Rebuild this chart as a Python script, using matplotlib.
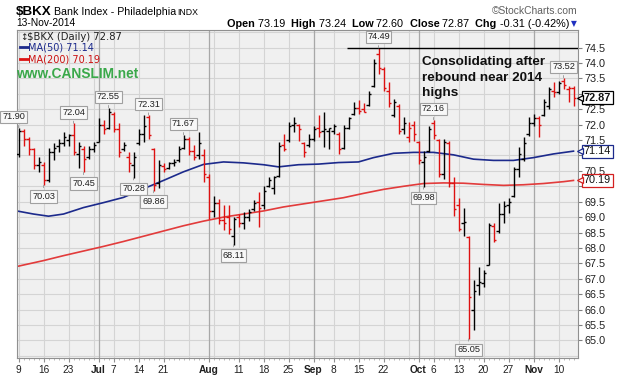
import numpy as np
import pandas as pd
import matplotlib
matplotlib.use('Agg')
import matplotlib.pyplot as plt

# ---------------- data ----------------
opens = [71.05, 71.80, 71.55, 71.20, 70.70, 70.70, 70.20, 71.10, 71.30, 71.40,
         71.50, 71.65, 71.05, 71.20, 70.95, 71.20, 71.45, 72.00, 71.90, 72.35,
         71.85, 71.20, 70.95, 70.70, 71.40, 71.70, 72.25, 71.20, 70.10, 70.65,
         70.60, 70.75, 70.85, 71.25, 71.55, 71.15, 71.00, 71.00, 70.30, 69.20,
         69.45, 68.90, 69.00, 68.40, 69.00, 68.80, 69.00, 69.25, 69.50, 69.40,
         70.00, 69.95, 70.35, 71.35, 71.50, 72.00, 72.00, 71.40, 71.35, 71.55,
         71.90, 71.80, 71.80, 71.80, 71.70, 71.25, 71.90, 72.35, 72.55, 72.50,
         72.65, 73.25, 74.30, 73.80, 73.10, 72.30, 72.60, 71.85, 71.60, 72.00,
         71.45, 70.80, 71.15, 72.05, 71.50, 70.40, 71.40, 70.10, 69.40, 68.80,
         68.35, 66.00, 66.80, 66.85, 67.45, 68.70, 68.55, 69.10, 69.40, 69.70,
         70.55, 70.90, 71.70, 72.05, 72.20, 72.30, 72.60, 73.10, 73.05, 73.40,
         73.15, 73.19]
highs = [71.90, 71.85, 71.60, 71.25, 70.95, 70.80, 71.25, 71.40, 71.55, 71.75,
         71.70, 72.04, 71.45, 71.30, 71.30, 71.45, 72.20, 72.15, 72.55, 72.40,
         72.05, 71.45, 71.10, 71.10, 71.85, 72.30, 72.31, 71.25, 70.85, 70.75,
         70.80, 70.90, 71.30, 71.67, 71.60, 71.35, 71.75, 71.20, 70.40, 69.70,
         69.59, 69.40, 69.40, 69.00, 69.10, 69.16, 69.27, 69.54, 69.81, 70.02,
         70.29, 70.35, 71.43, 71.70, 72.08, 72.24, 72.02, 71.43, 71.70, 71.97,
         72.30, 72.40, 71.90, 72.02, 71.75, 72.00, 72.25, 72.73, 72.80, 72.70,
         73.10, 74.13, 74.49, 73.86, 73.37, 72.84, 72.67, 72.24, 72.08, 72.13,
         71.48, 71.16, 71.97, 72.16, 71.54, 71.54, 71.48, 70.30, 69.61, 69.30,
         68.40, 66.95, 67.38, 67.27, 68.82, 68.82, 69.46, 69.51, 69.61, 70.62,
         71.27, 71.59, 72.24, 72.35, 72.29, 72.83, 73.21, 73.37, 73.43, 73.52,
         73.26, 73.24]
lows = [70.95, 71.30, 71.00, 70.55, 70.45, 70.03, 70.15, 70.85, 71.10, 71.30,
        71.30, 71.00, 70.60, 70.45, 70.90, 71.10, 71.45, 71.70, 71.85, 71.75,
        70.95, 71.15, 70.45, 70.28, 71.35, 71.45, 71.55, 69.86, 69.95, 70.45,
        70.55, 70.65, 70.80, 71.20, 71.00, 70.85, 70.90, 70.15, 68.94, 69.00,
        68.78, 68.57, 68.45, 68.11, 68.67, 68.62, 68.89, 69.21, 68.67, 69.27,
        69.97, 69.76, 70.29, 71.16, 71.43, 71.75, 71.48, 70.94, 71.27, 71.48,
        71.60, 71.27, 71.20, 71.70, 71.05, 71.20, 71.85, 72.30, 72.35, 72.40,
        72.60, 73.21, 73.65, 73.10, 72.57, 72.24, 71.70, 71.70, 71.43, 71.48,
        70.73, 69.98, 71.11, 71.54, 70.30, 70.24, 69.97, 69.05, 68.55, 68.40,
        65.05, 65.35, 66.46, 66.73, 67.45, 68.20, 68.50, 68.82, 69.14, 69.64,
        70.29, 70.83, 71.64, 71.97, 71.59, 72.29, 72.51, 72.89, 72.99, 73.16,
        72.72, 72.60]
closes = [71.80, 71.55, 71.20, 70.70, 70.80, 70.20, 71.10, 71.25, 71.40, 71.60,
          71.65, 71.10, 71.30, 70.90, 71.20, 71.35, 72.00, 71.85, 72.40, 71.85,
          71.10, 71.35, 70.75, 70.95, 71.70, 71.95, 71.65, 70.05, 70.70, 70.55,
          70.75, 70.80, 71.20, 71.55, 71.15, 70.95, 71.40, 70.40, 69.20, 69.45,
          68.90, 68.80, 68.60, 68.95, 68.80, 69.00, 69.15, 69.45, 69.30, 69.85,
          70.20, 70.30, 71.30, 71.20, 71.95, 72.05, 71.85, 71.10, 71.55, 71.85,
          71.75, 71.85, 71.90, 71.95, 71.20, 71.90, 72.20, 72.55, 72.45, 72.42,
          73.00, 74.00, 73.85, 73.20, 72.70, 72.75, 71.80, 72.05, 71.90, 71.70,
          70.85, 70.95, 71.85, 71.65, 70.40, 71.45, 70.10, 69.25, 68.60, 68.85,
          66.40, 66.60, 66.90, 67.20, 68.75, 68.25, 69.10, 69.35, 69.50, 70.55,
          71.05, 71.40, 72.05, 72.20, 72.00, 72.75, 73.15, 73.05, 73.35, 73.30,
          73.18, 72.87]

ma50_idx = [0, 3, 6, 9, 13, 17, 21, 25, 29, 33, 37, 41, 45, 49, 52, 56, 60, 64,
            68, 71, 75, 79, 83, 87, 91, 95, 99, 103, 107, 111]
ma50_val = [69.19, 69.10, 69.03, 69.10, 69.31, 69.47, 69.64, 69.92, 70.19, 70.47,
            70.71, 70.79, 70.76, 70.70, 70.63, 70.70, 70.72, 70.77, 70.79, 70.93,
            71.07, 71.10, 71.10, 71.02, 70.88, 70.84, 70.84, 70.93, 71.05, 71.14]
ma200_idx = [0, 5, 9, 13, 17, 21, 25, 29, 33, 37, 41, 45, 49, 53, 57, 61, 65, 69,
             73, 77, 81, 85, 89, 93, 97, 101, 105, 109, 111]
ma200_val = [67.41, 67.59, 67.75, 67.90, 68.05, 68.21, 68.38, 68.55, 68.72, 68.87,
             69.00, 69.10, 69.20, 69.33, 69.43, 69.53, 69.63, 69.77, 69.90, 70.00,
             70.09, 70.11, 70.10, 70.06, 70.03, 70.05, 70.09, 70.15, 70.19]

high_marks = [(0, 71.90), (11, 72.04), (18, 72.55), (26, 72.31), (33, 71.67),
              (72, 74.49), (83, 72.16), (109, 73.52)]
low_marks = [(5, 70.03), (13, 70.45), (23, 70.28), (27, 69.86), (43, 68.11),
             (81, 69.98), (90, 65.05)]
resistance = 74.49
resistance_start = 65.6
note_lines = ['Consolidating after', 'rebound near 2014', 'highs']

dates = pd.bdate_range('2014-06-09', '2014-11-13')
dates = dates[~dates.isin(pd.to_datetime(['2014-07-04', '2014-09-01']))]

# ---------------- figure ----------------
W, H = 617, 379
fig = plt.figure(figsize=(W / 100, H / 100), dpi=100)
L_, R_, T_, B_ = 17, 578, 30, 358
ax = fig.add_axes([L_ / W, 1 - B_ / H, (R_ - L_) / W, (B_ - T_) / H])
ax.set_facecolor('#f0f0f0')

n = len(closes)
x = np.arange(n)
xmax = (R_ - L_) / 5.0 - 0.3
ax.set_xlim(-0.3, xmax)
ax.set_ylim(64.43, 75.07)

# grid
for v in np.arange(64.5, 75.01, 0.5):
    ax.axhline(v, color='#d4d4d4', lw=0.8, zorder=0)

month_first = []
week_first = []
for i, d in enumerate(dates):
    if i == 0 or d.month != dates[i - 1].month:
        month_first.append(i)
    if i == 0 or d.weekday() < dates[i - 1].weekday() or (d - dates[i - 1]).days > 3:
        week_first.append(i)
for i in week_first:
    ax.axvline(i, color='#d4d4d4', lw=0.8, zorder=0)
for i in month_first[1:]:
    ax.axvline(i, color='#a8a8a8', lw=0.9, zorder=0)

# moving averages
ax.plot(ma50_idx, ma50_val, color='#1c2a8c', lw=1.2, zorder=2)
ax.plot(ma200_idx, ma200_val, color='#e23b3b', lw=1.2, zorder=2)

# OHLC bars
cols = ['black' if (i == 0 or closes[i] >= closes[i - 1]) else '#dd1111' for i in range(n)]
ax.vlines(x, lows, highs, colors=cols, lw=1.0, zorder=3)
ax.hlines(opens, x - 0.45, x, colors=cols, lw=1.0, zorder=3)
ax.hlines(closes, x, x + 0.45, colors=cols, lw=1.0, zorder=3)

ax.hlines(resistance, resistance_start, xmax, colors='black', lw=1.0, zorder=3)

# callouts
FONT = 'Liberation Sans'
box = dict(boxstyle='square,pad=0.18', fc='#f8f8f8', ec='#a0a0a0', lw=0.8)
for i, v in high_marks:
    dx = -5 if i == 0 else 0
    ax.annotate(f'{v:.2f}', xy=(i, v), xytext=(dx, 11),
                textcoords='offset pixels', ha='center', va='center',
                fontsize=6.6, family=FONT, color='#202020', bbox=box,
                annotation_clip=False, zorder=5)
    ax.annotate('', xy=(i, v), xytext=(0, 5), textcoords='offset pixels',
                arrowprops=dict(arrowstyle='-', color='#a0a0a0', lw=0.7),
                annotation_clip=False, zorder=5)
for i, v in low_marks:
    ax.annotate(f'{v:.2f}', xy=(i, v), xytext=(0, -11),
                textcoords='offset pixels', ha='center', va='center',
                fontsize=6.6, family=FONT, color='#202020', bbox=box,
                annotation_clip=False, zorder=5)
    ax.annotate('', xy=(i, v), xytext=(0, -5), textcoords='offset pixels',
                arrowprops=dict(arrowstyle='-', color='#a0a0a0', lw=0.7),
                annotation_clip=False, zorder=5)

# axes styling
for s in ax.spines.values():
    s.set_color('#909090')
    s.set_linewidth(0.8)
ax.yaxis.tick_right()
ytk = np.arange(65.0, 74.51, 0.5)
tag_vals = [closes[-1], ma50_val[-1], ma200_val[-1]]
ax.set_yticks(ytk)
ax.set_yticklabels(['' if min(abs(v - t) for t in tag_vals) < 0.2 else f'{v:.1f}' for v in ytk],
                   family=FONT, fontsize=7.8, color='#202020')
ax.tick_params(axis='y', length=3, width=0.8, color='#808080', pad=2)

tick_idx, tick_lab, bold = [], [], []
for i in sorted(set(week_first) | set(month_first)):
    if i in month_first and i != 0:
        tick_idx.append(i); tick_lab.append(dates[i].strftime('%b')); bold.append(True)
    else:
        if any(0 < m - i <= 4 or 0 < i - m <= 2 for m in month_first[1:]):
            continue
        tick_idx.append(i); tick_lab.append(str(dates[i].day)); bold.append(False)
ax.set_xticks(tick_idx)
ax.set_xticklabels(tick_lab, family=FONT, fontsize=7.3, color='#202020')
for t, b in zip(ax.get_xticklabels(), bold):
    if b:
        t.set_fontweight('bold')
ax.set_xticks(x, minor=True)
ax.tick_params(axis='x', which='major', length=3, width=0.8, color='#909090', pad=2)
ax.tick_params(axis='x', which='minor', length=1.5, width=0.6, color='#b0b0b0')

# right tags
def tag(val, txt, ec, weight='normal'):
    ax.annotate(txt, xy=(1.0, val), xycoords=('axes fraction', 'data'),
                xytext=(6, 0), textcoords='offset pixels', ha='left', va='center',
                fontsize=7.8, family=FONT, fontweight=weight, color='#101010',
                bbox=dict(boxstyle='square,pad=0.15', fc='white', ec=ec, lw=0.9),
                annotation_clip=False, zorder=6)
    ax.plot([1.0 + 2 / (R_ - L_)], [val], marker='<', ms=4, mfc='white', mec=ec, mew=0.9,
            transform=ax.get_yaxis_transform(), clip_on=False, zorder=7)

tag(closes[-1], f'{closes[-1]:.2f}', 'black', 'bold')
tag(ma50_val[-1], f'{ma50_val[-1]:.2f}', '#1c2a8c')
tag(ma200_val[-1], f'{ma200_val[-1]:.2f}', '#d42020')

# ---------------- texts ----------------
def fx(px): return px / W
def fy(py): return 1 - py / H

fig.text(fx(16), fy(15), '$BKX', family=FONT, fontweight='bold', fontsize=9.6, va='baseline')
fig.text(fx(54), fy(15), 'Bank Index - Philadelphia', family=FONT, fontsize=7.7, va='baseline')
fig.text(fx(177), fy(15), 'INDX', family=FONT, fontsize=6.3, va='baseline')
fig.text(fx(16), fy(26.5), '13-Nov-2014', family=FONT, fontsize=7.4, va='baseline')
fig.text(fx(578), fy(14.5), '\u00a9StockCharts.com', family=FONT, fontsize=7.4,
         color='#606060', ha='right', va='baseline')

fig.canvas.draw()
rend = fig.canvas.get_renderer()
pieces = [('Open ', 'bold'), ('73.19  ', 'normal'), ('High ', 'bold'), ('73.24  ', 'normal'),
          ('Low ', 'bold'), ('72.60  ', 'normal'), ('Close ', 'bold'), ('72.87  ', 'normal'),
          ('Chg ', 'bold'), ('-0.31 (-0.42%)', 'normal')]
objs = []
for s, w in pieces:
    t = fig.text(0, fy(27), s, family=FONT, fontweight=w, fontsize=7.8, va='baseline')
    objs.append(t)
widths = [t.get_window_extent(rend).width for t in objs]
xcur = 569 - sum(widths)
for t, wd in zip(objs, widths):
    t.set_x(fx(xcur))
    xcur += wd
fig.text(fx(574), fy(23.5), '\u25bc', family='DejaVu Sans', fontsize=5.5, color='#2030c0',
         ha='center', va='center')

# legend inside the plot
fig.text(fx(20), fy(39.5), '\u2195', family='DejaVu Sans', fontsize=6.5, va='baseline', color='#202020')
fig.text(fx(27), fy(39.5), '$BKX (Daily) 72.87', family='DejaVu Sans', fontsize=7.2,
         va='baseline', color='#202020')
fig.add_artist(plt.Line2D([fx(20), fx(28)], [fy(47), fy(47)], color='#1c2a8c', lw=2))
fig.text(fx(28.5), fy(50.5), 'MA(50) 71.14', family='DejaVu Sans', fontsize=7.0,
         va='baseline', color='#1c2a8c')
fig.add_artist(plt.Line2D([fx(20), fx(28)], [fy(58.5), fy(58.5)], color='#dd1111', lw=2))
fig.text(fx(28.5), fy(62), 'MA(200) 70.19', family='DejaVu Sans', fontsize=7.0,
         va='baseline', color='#cc1111')
fig.text(fx(16), fy(78), 'www.CANSLIM.net', family=FONT, fontweight='bold', fontsize=9.9,
         va='baseline', color='#3aa84a')

for k, line in enumerate(note_lines):
    fig.text(fx(422), fy(65.5 + 15.2 * k), line, family=FONT, fontweight='bold',
             fontsize=9.7, va='baseline', color='#101010')

fig.savefig('out.png', dpi=100)
